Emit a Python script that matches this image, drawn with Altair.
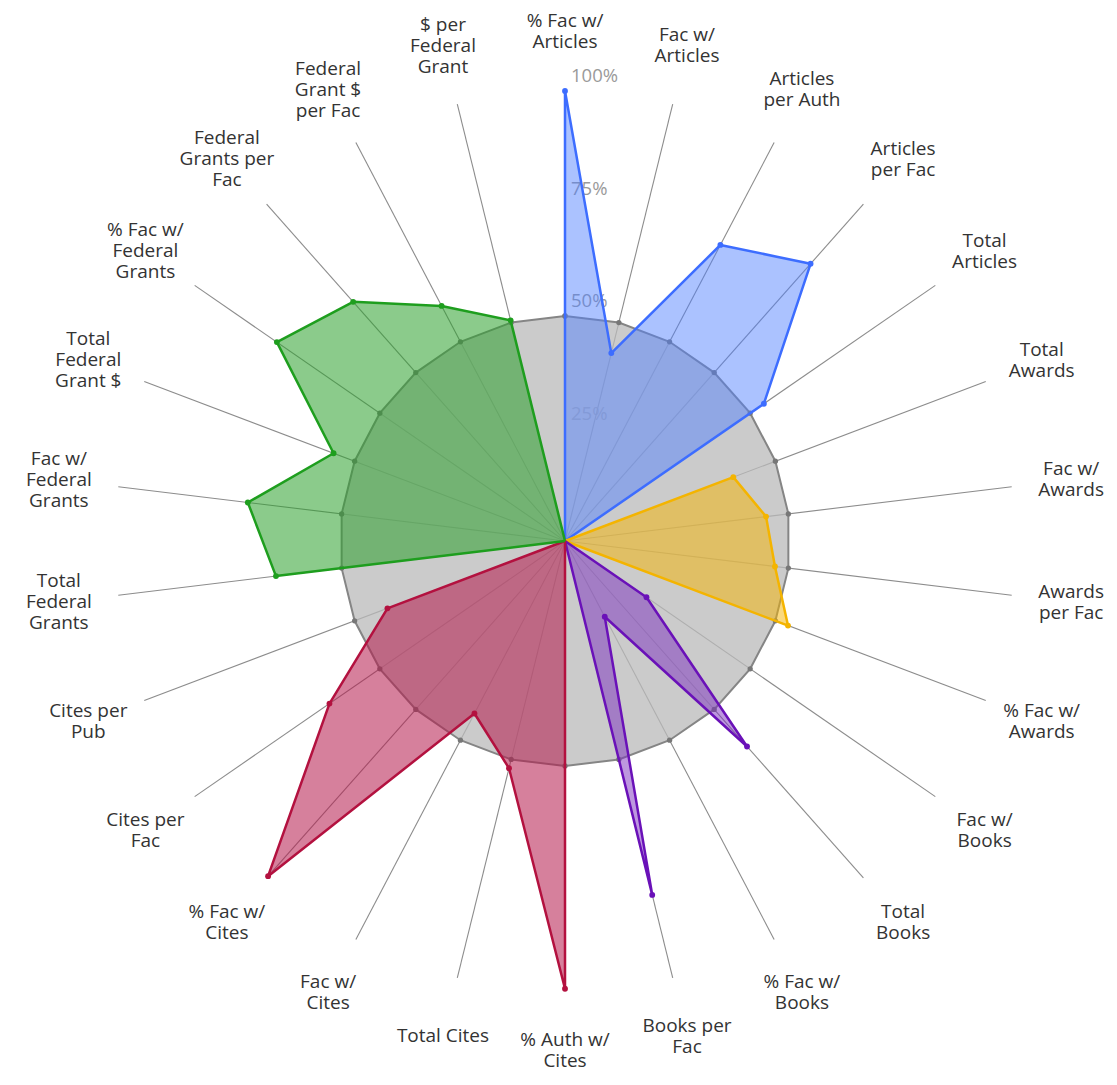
import altair as alt
import pandas as pd

# ---------------- data ----------------
AXES = [
    "% Fac w/\nArticles", "Fac w/\nArticles", "Articles\nper Auth", "Articles\nper Fac",
    "Total\nArticles", "Total\nAwards", "Fac w/\nAwards", "Awards\nper Fac",
    "% Fac w/\nAwards", "Fac w/\nBooks", "Total\nBooks", "% Fac w/\nBooks",
    "Books per\nFac", "% Auth w/\nCites", "Total Cites", "Fac w/\nCites",
    "% Fac w/\nCites", "Cites per\nFac", "Cites per\nPub", "Total\nFederal\nGrants",
    "Fac w/\nFederal\nGrants", "Total\nFederal\nGrant $", "% Fac w/\nFederal\nGrants",
    "Federal\nGrants per\nFac", "Federal\nGrant $\nper Fac", "$ per\nFederal\nGrant",
]
N_AXES = len(AXES)

ARTICLES = [100, 43, 74.3, 82.3, 53.7]          # axes 0-4
AWARDS = [40, 45, 47, 53]                        # axes 5-8
BOOKS = [22, 61, 19, 81]                         # axes 9-12
CITES = [99.5, 52, 43.3, 99.5, 63.6, 42.2]       # axes 13-18
GRANTS = [64.7, 71, 55, 77.8, 71, 59, 50.5]      # axes 19-25
AVERAGE = [50, 50, 50, 50, 50, 50, 50, 50, 50, 50, 50, 50, 50,
           50, 50, 50, 50, 50, 50, 50, 50, 50, 50, 50, 50, 50]

PCT_TICKS = [25, 50, 75, 100]
PCT_LABELS = ["25%", "50%", "75%", "100%"]

SERIES_START = {"Articles": 0, "Awards": 5, "Books": 9, "Cites": 13, "Grants": 19}
SERIES_VALUES = {"Articles": ARTICLES, "Awards": AWARDS, "Books": BOOKS,
                 "Cites": CITES, "Grants": GRANTS}

# ---------------- styles ----------------
STYLE = {
    "Articles": ("#3d6dff", "#4f7fff", 0.48),
    "Awards": ("#f4b400", "#f5b400", 0.5),
    "Books": ("#6a11b8", "#7b2fbf", 0.5),
    "Cites": ("#b3113f", "#b5174a", 0.55),
    "Grants": ("#1e9e1e", "#2ca02c", 0.55),
}
PX = 4.5            # pixels per percent
W, H = 1101, 1069
CX, CY = 557, 533   # centre inside plot area
XS = alt.Scale(domain=[-CX / PX, (W - CX) / PX], nice=False, zero=False)
YS = alt.Scale(domain=[-(H - CY) / PX, CY / PX], nice=False, zero=False)
X = alt.X("x:Q", scale=XS, axis=None)
Y = alt.Y("y:Q", scale=YS, axis=None)
ANG = f"datum.idx * 2 * PI / {N_AXES}"
LABEL_R = 113.3
LABEL_LH = 21
FONT = "Open Sans"


def polar(ch):
    return ch.transform_calculate(ang=ANG).transform_calculate(
        x="datum.val * sin(datum.ang)", y="datum.val * cos(datum.ang)")


layers = []

# percent labels (under everything)
pct_df = pd.DataFrame({"val": PCT_TICKS, "lab": PCT_LABELS})
layers.append(
    alt.Chart(pct_df).mark_text(align="left", baseline="middle", dx=6, dy=-15,
                                font=FONT, fontSize=18.5, color="#9a9a9a")
    .transform_calculate(x="0", y="datum.val")
    .encode(x=X, y=Y, text="lab:N")
)

# spokes
spoke_df = pd.DataFrame({"idx": list(range(N_AXES))})
layers.append(
    alt.Chart(spoke_df).mark_rule(color="#8c8c8c", strokeWidth=1.1)
    .transform_calculate(ang=ANG)
    .transform_calculate(x="0", y="0",
                         x2v=f"{max(PCT_TICKS)} * sin(datum.ang)",
                         y2v=f"{max(PCT_TICKS)} * cos(datum.ang)")
    .encode(x=X, y=Y, x2="x2v:Q", y2="y2v:Q")
)

# average (gray) polygon
avg_rows = [{"idx": i, "val": v, "ord": i} for i, v in enumerate(AVERAGE)]
avg_rows.append({"idx": 0, "val": AVERAGE[0], "ord": N_AXES})
avg_df = pd.DataFrame(avg_rows)
layers.append(
    polar(alt.Chart(avg_df).mark_line(stroke="#858585", strokeWidth=2,
                                      fill="#b9b9b9", fillOpacity=0.75))
    .encode(x=X, y=Y, order="ord:Q")
)
layers.append(
    polar(alt.Chart(avg_df).mark_circle(size=28, color="#777777", opacity=1))
    .encode(x=X, y=Y)
)

# coloured series
for name, start in SERIES_START.items():
    vals = SERIES_VALUES[name]
    stroke, fill, op = STYLE[name]
    rows = [{"idx": start, "val": 0, "ord": 0, "pt": 0}]
    for k, v in enumerate(vals):
        rows.append({"idx": start + k, "val": v, "ord": k + 1, "pt": 1})
    rows.append({"idx": start + len(vals) - 1, "val": 0, "ord": len(vals) + 1, "pt": 0})
    df = pd.DataFrame(rows)
    layers.append(
        polar(alt.Chart(df).mark_line(stroke=stroke, strokeWidth=2.5, fill=fill,
                                      fillOpacity=op, strokeJoin="round"))
        .encode(x=X, y=Y, order="ord:Q")
    )
    layers.append(
        polar(alt.Chart(df).transform_filter("datum.pt == 1")
              .mark_circle(size=34, color=stroke, opacity=1))
        .encode(x=X, y=Y)
    )

# axis labels (multi-line blocks centred on their anchor)
lab_df = pd.DataFrame({"idx": list(range(N_AXES)), "lab": AXES})
layers.append(
    alt.Chart(lab_df).mark_text(align="center", baseline="middle", lineBreak="\n",
                                font=FONT, fontSize=19, lineHeight=LABEL_LH,
                                color="#333333")
    .transform_calculate(ang=ANG, nl="length(split(datum.lab, '\\n'))")
    .transform_calculate(
        x=f"{LABEL_R} * sin(datum.ang)",
        y=f"{LABEL_R} * cos(datum.ang) + (datum.nl - 1) / 2 * {LABEL_LH / PX}")
    .encode(x=X, y=Y, text="lab:N")
)

chart = (
    alt.layer(*layers)
    .properties(width=W, height=H, padding=0, autosize=alt.AutoSizeParams(type="none"))
    .configure_view(stroke=None)
)
chart.save("out.html", embed_options={"renderer": "svg", "actions": False})
